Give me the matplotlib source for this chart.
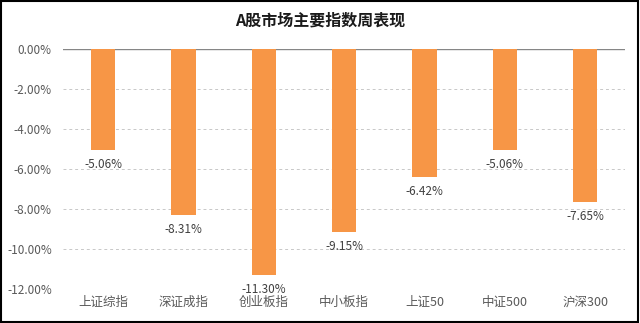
import matplotlib
matplotlib.use('Agg')
import matplotlib.pyplot as plt
from matplotlib.patches import Rectangle
from matplotlib.ticker import FuncFormatter

plt.rcParams['font.family'] = ['Noto Sans CJK SC', 'DejaVu Sans']

# Data -------------------------------------------------------------
categories = ['上证综指', '深证成指', '创业板指', '中小板指', '上证50', '中证500', '沪深300']
weekly_pct = [-5.06, -8.31, -11.30, -9.15, -6.42, -5.06, -7.65]
yticks = [0, -2, -4, -6, -8, -10, -12]

bar_color = '#F79646'

fig = plt.figure(figsize=(6.4, 3.23), dpi=100)
ax = fig.add_axes([0.0984, 0.1053, 0.8786, 0.7430])

x = range(len(categories))
ax.bar(x, weekly_pct, width=0.3, color=bar_color, zorder=3)

# data labels under each bar end
for xi, v in zip(x, weekly_pct):
    ax.annotate('%.2f%%' % v, (xi, v), xytext=(0, -5.5), textcoords='offset points',
                ha='center', va='top', fontsize=8.5, color='#404040', zorder=4)

ax.set_xlim(-0.5, len(categories) - 0.5)
ax.set_ylim(-12, 0)
ax.set_yticks(yticks)
ax.yaxis.set_major_formatter(FuncFormatter(lambda v, p: '%.2f%%' % v))
ax.set_xticks(list(x))
ax.set_xticklabels(categories)
ax.tick_params(axis='both', length=0, labelsize=8.5, colors='#595959')
ax.tick_params(axis='x', pad=5, labelsize=9)
ax.tick_params(axis='y', pad=8)

ax.grid(axis='y', linestyle=(0, (3, 3)), color='#C8C8C8', linewidth=0.7, zorder=0)
ax.axhline(0, color='#868686', linewidth=1.0, zorder=2)
for s in ax.spines.values():
    s.set_visible(False)

fig.text(0.5, 0.935, 'A股市场主要指数周表现', ha='center', va='center',
         fontsize=11.5, fontweight='bold', color='#1a1a1a')

# outer border
fig.patches.append(Rectangle((0.002, 0.003), 0.995, 0.993, transform=fig.transFigure,
                             fill=False, edgecolor='#000000', linewidth=1.5))

fig.savefig('out.png', dpi=100)
